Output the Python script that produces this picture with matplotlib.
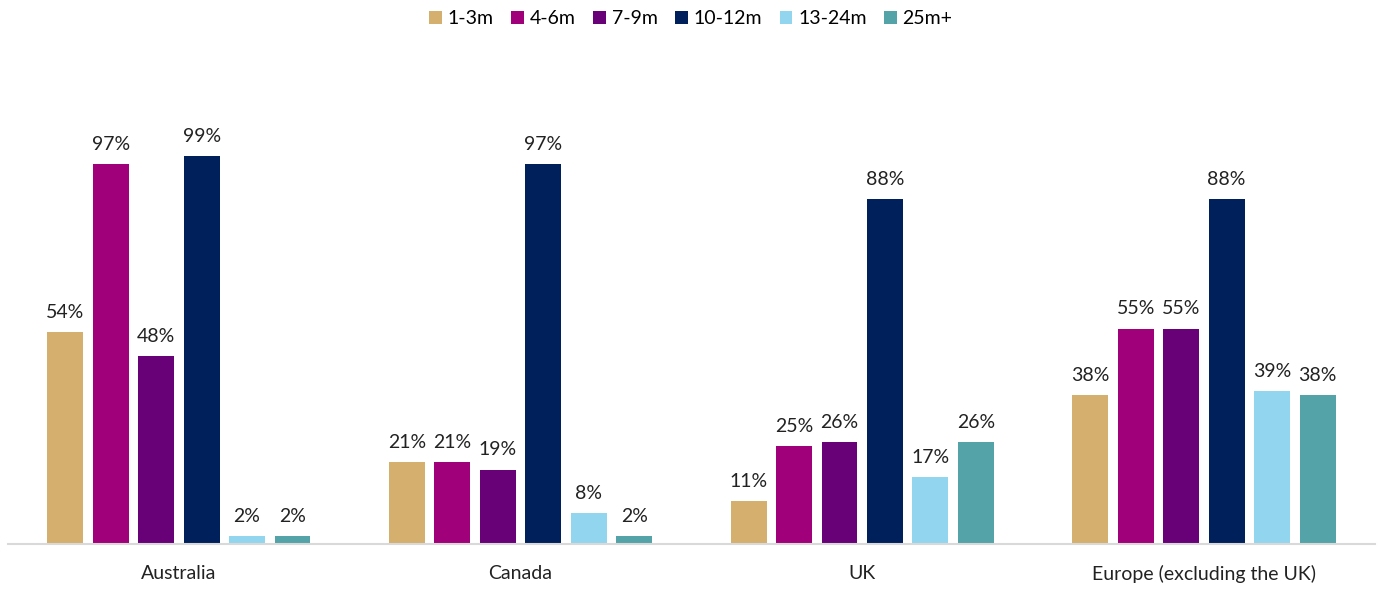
import matplotlib.pyplot as plt
import numpy as np

plt.rcParams['font.family'] = ['Lato', 'DejaVu Sans']

regions = ["Australia", "Canada", "UK", "Europe (excluding the UK)"]
bands = ["1-3m", "4-6m", "7-9m", "10-12m", "13-24m", "25m+"]
colors = ["#D4AF6E", "#A0007A", "#680078", "#00205B", "#92D5EE", "#53A3A8"]

share_1_3 = [54, 21, 11, 38]
share_4_6 = [97, 21, 25, 55]
share_7_9 = [48, 19, 26, 55]
share_10_12 = [99, 97, 88, 88]
share_13_24 = [2, 8, 17, 39]
share_25 = [2, 2, 26, 38]
values = [share_1_3, share_4_6, share_7_9, share_10_12, share_13_24, share_25]

fig = plt.figure(figsize=(13.82, 5.89), dpi=100)
ax = fig.add_axes([0.0058, 0.0764, 0.989, 0.798])

x = np.arange(len(regions))
pitch = 0.133
width = 0.105
for i, (band, vals) in enumerate(zip(bands, values)):
    pos = x + (i - 2.5) * pitch
    bars = ax.bar(pos, vals, width, color=colors[i], label=band)
    for b, v in zip(bars, vals):
        ax.annotate(f"{v}%", (b.get_x() + b.get_width() / 2, v),
                    xytext=(0, 8), textcoords="offset points",
                    ha="center", va="bottom", fontsize=14, color="#222222")

ax.set_xlim(-0.5, 3.5)
ax.set_ylim(0, 120)
ax.set_xticks(x)
ax.set_xticklabels(regions, fontsize=14, color="#222222")
ax.tick_params(axis="x", length=0, pad=15)
ax.set_yticks([])
for s in ["top", "right", "left"]:
    ax.spines[s].set_visible(False)
ax.spines["bottom"].set_color("#D9D9D9")
ax.spines["bottom"].set_linewidth(1.5)

fig.legend(loc="upper center", bbox_to_anchor=(0.5, 1.012), ncol=6, frameon=False,
           fontsize=14, handlelength=0.65, handleheight=0.65, handletextpad=0.3,
           columnspacing=0.9)

fig.savefig("out.png", dpi=100)
